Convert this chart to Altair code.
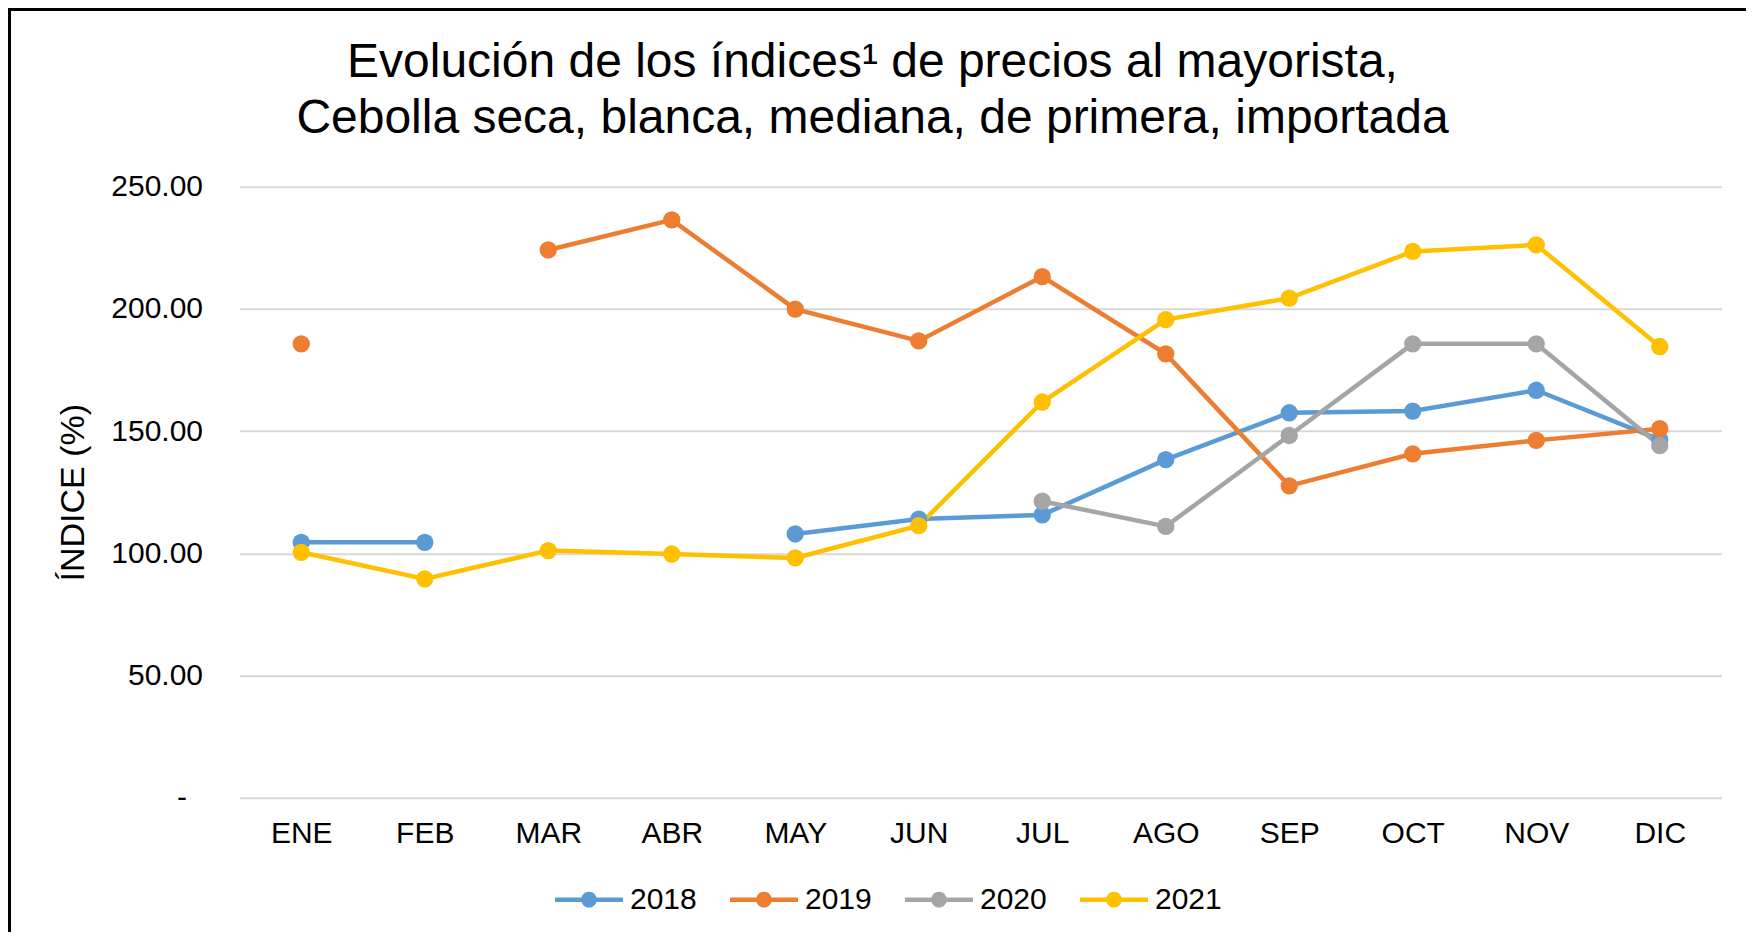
import altair as alt
import pandas as pd

months = ["ENE", "FEB", "MAR", "ABR", "MAY", "JUN", "JUL", "AGO", "SEP", "OCT", "NOV", "DIC"]
years = ["2018", "2019", "2020", "2021"]
v2018 = [104.5, 104.5, None, None, 107.9, 114.0, 115.7, 138.3, 157.5, 158.2, 166.7, 146.5]
v2019 = [185.7, None, 224.1, 236.4, 199.9, 186.9, 213.2, 181.6, 127.6, 140.7, 146.2, 151.0]
v2020 = [None, None, None, None, None, None, 121.3, 111.0, 148.2, 185.7, 185.7, 144.1]
v2021 = [100.4, 89.5, 101.1, 99.7, 98.1, 111.3, 161.9, 195.6, 204.4, 223.5, 226.2, 184.6]
colors = ["#5B9BD5", "#ED7D31", "#A5A5A5", "#FFC000"]
y_ticks = [0, 50, 100, 150, 200, 250]
title_lines = ["Evolución de los índices¹ de precios al mayorista,",
               "Cebolla seca, blanca, mediana, de primera, importada"]

rows = []
for yr, vals in zip(years, [v2018, v2019, v2020, v2021]):
    for m, v in zip(months, vals):
        rows.append({"mes": m, "anio": yr, "valor": v})
df = pd.DataFrame(rows)

FONT = "Liberation Sans, Arial, sans-serif"
W, H = 1482, 611
PL, PT = 231.5, 178.7

x = alt.X("mes:N", sort=months, title=None,
          axis=alt.Axis(labelAngle=0, labelPadding=21, grid=False))
y = alt.Y("valor:Q", scale=alt.Scale(domain=[0, 250], nice=False),
          axis=alt.Axis(values=y_ticks, title="ÍNDICE (%)",
                        labelExpr="datum.value == 0 ? '-' : format(datum.value, '.2f')",
                        labelPadding={"condition": {"test": "datum.value == 0", "value": 53},
                                      "value": 37},
                        titleX=-156, titleY=H / 2,
                        titleBaseline="alphabetic", titleFontSize=34,
                        titleFontWeight="normal"))

base = alt.Chart(df)

sym = ("M-1,-0.065L1,-0.065L1,0.065L-1,0.065Z "
       "M-0.23,0A0.23,0.23 0 1,1 0.23,0A0.23,0.23 0 1,1 -0.23,0Z")

color = alt.Color("anio:N", scale=alt.Scale(domain=years, range=colors),
                  legend=alt.Legend(title=None, orient="none", direction="horizontal",
                                    legendX=315.5, legendY=679, symbolType=sym,
                                    symbolSize=4624, symbolStrokeWidth=0,
                                    symbolOpacity=1, symbolFillColor="#888888",
                                    labelFontSize=30, labelFont=FONT,
                                    labelColor="#000000", labelOffset=7,
                                    columnPadding=33, padding=0))

lines = base.mark_line(strokeWidth=4.5, invalid="break-paths-show-domains").encode(
    x=x, y=y, color=color
)

points = base.mark_point(filled=True, size=300, opacity=1).encode(
    x=x, y=y, color=color
)

border_data = alt.Data(values=[{"k": 1}])
left_border = alt.Chart(border_data).mark_rule(color="black", strokeWidth=3).encode(
    x=alt.value(-PL + 1.5), y=alt.value(-PT), y2=alt.value(H + 200)
)
top_border = alt.Chart(border_data).mark_rule(color="black", strokeWidth=3).encode(
    x=alt.value(-PL), x2=alt.value(W + 60), y=alt.value(-PT + 1.5)
)

chart = alt.layer(lines, points, left_border, top_border).properties(
    width=W, height=H,
    title=alt.TitleParams(text=title_lines, fontSize=48, font=FONT, fontWeight="normal",
                          color="#000000", anchor="middle", frame="group", dx=-108,
                          dy=137, lineHeight=56, offset=0),
    autosize=alt.AutoSizeParams(type="none"),
    padding={"left": PL, "top": PT, "right": 24, "bottom": 134},
).configure_view(stroke=None).configure_axis(
    domain=False, ticks=False, tickSize=0, labelFont=FONT, labelFontSize=30,
    labelColor="#000000", titleFont=FONT, titleColor="#000000",
    gridColor="#D9D9D9", gridWidth=2
)

chart.save("out.html", embed_options={"renderer": "svg", "actions": False})
